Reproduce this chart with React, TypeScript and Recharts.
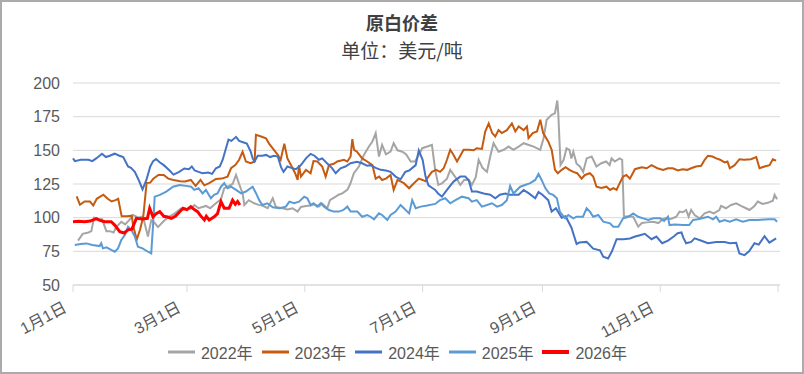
import { LineChart, Line, XAxis, YAxis, CartesianGrid, Legend } from 'recharts';

// [day of year, value]
const s2022: [number, number][] = [
  [2.6, 83], [5, 88], [8, 89], [9.5, 90], [10.9, 100], [13, 98.5], [15, 99], [17.3, 90], [19, 90], [21, 89],
  [22.4, 93], [25, 97], [27, 95], [29.3, 98.5], [31, 102], [34, 100], [36.2, 101], [38.8, 86], [40.5, 98], [42.3, 96],
  [44, 93], [46.6, 97], [49, 100], [52.6, 103], [56, 107], [58.5, 106], [61.2, 107], [62.8, 109.4], [65, 107], [68.8, 108.7],
  [71, 107], [74, 110.7], [76.6, 113.7], [78.3, 121.8], [80, 123], [82.6, 125], [84.4, 131.8], [86, 125], [87.8, 118], [88.7, 109.4],
  [91, 113], [93.8, 110.7], [96, 109.5], [98, 109], [100.8, 107], [103.4, 114.4], [105, 108], [108.5, 107], [111, 106], [113.7, 107],
  [116.3, 104.5], [118, 108], [120.6, 108.7], [123, 109], [125, 110], [127.3, 108.2], [129, 110.5], [131.6, 107], [133, 113], [136, 115.6],
  [137.5, 117], [139.4, 118], [142, 120.6], [143.5, 125], [145.4, 133], [148, 138], [150.6, 146.6], [153.2, 152.8], [155, 156.6], [156.7, 162.8],
  [158.4, 145.4], [160, 154], [162, 147], [164.4, 149], [166, 155.3], [168, 150], [170.5, 149], [172.5, 147], [174.8, 141.7], [177, 141.7],
  [179, 146.6], [180.8, 151.6], [183.4, 152.8], [185.8, 154], [187.5, 135.5], [189.1, 124.3], [191, 125.5], [193.6, 129], [195.3, 135.5], [197, 132],
  [199, 128], [200.5, 124.3], [202.5, 128], [205, 128], [206.5, 124.3], [208.5, 130], [210, 143], [212, 137], [214.3, 134], [216, 145.4],
  [217.7, 155.3], [220.3, 149], [223, 150.4], [225.5, 152.8], [228, 150.4], [230.7, 152.8], [233.3, 155.3], [236, 154], [238.5, 152.8], [241.9, 150.4],
  [243.6, 159], [245.2, 172.7], [247.8, 176.4], [249.5, 177.5], [250.7, 187], [251.2, 177.7], [252.4, 139.2], [254, 143], [255.5, 151.6], [257, 150.4],
  [258, 144], [259, 149], [260.7, 140], [262.4, 138], [264.1, 134], [265.9, 144], [268.5, 145.4], [271, 138], [273.5, 140.4], [276, 141.7],
  [277.8, 139], [278.8, 144], [280.5, 141.7], [283, 144], [284.3, 143], [285.2, 100.7], [287.5, 101], [290, 100.7], [292.6, 93.3], [294.5, 96],
  [297, 96.5], [300.4, 97], [303, 96], [305.5, 99], [307, 99.5], [309.5, 99], [312.3, 100.7], [314, 104.5], [315.7, 104], [317.4, 105.7],
  [318.7, 100.7], [320, 105.7], [321.8, 102], [324.4, 99.5], [327, 103.2], [329.5, 104.5], [331.7, 103.2], [334.6, 105.7], [335.5, 108.7], [338, 107],
  [340.7, 109.4], [343.3, 110.7], [345.8, 108.7], [348.4, 107], [350.2, 105.7], [352.8, 108.7], [354.5, 112], [357, 110.2], [359.7, 111], [362.3, 112.6],
  [363.2, 116.9], [364.5, 113.6],
];

const s2023: [number, number][] = [
  [1.9, 115.8], [3.6, 109.6], [6, 112], [8.8, 112], [10.5, 109], [12.3, 114], [15.7, 117], [18, 114], [20, 112], [22, 113],
  [23.4, 114], [25.2, 101], [28, 101], [30.4, 101.5], [31.2, 93.6], [33, 83.7], [34.7, 91], [36.4, 101], [38.1, 125.8], [40, 126],
  [41.6, 129], [44.2, 131.7], [47, 131.7], [49.3, 129], [52, 128], [55.4, 127], [58, 126.8], [61, 128], [63.5, 123.6], [66, 128],
  [68, 124], [70.5, 125.6], [74, 128.8], [77, 129], [80, 130.5], [81.8, 136.7], [84, 139], [86, 143], [87.8, 149], [89.5, 141.7],
  [92, 140.4], [94, 141.7], [94.7, 161.5], [97, 160.5], [99.9, 159], [101.5, 155], [103.3, 151.6], [106, 146.6], [107.5, 143], [109.4, 155],
  [111, 144], [113.7, 136.7], [115, 133], [116.3, 128], [117, 139], [118, 130.5], [120.6, 135.5], [123, 133], [124.5, 142], [126.5, 141.7],
  [129, 138], [130.8, 130.5], [132.5, 139], [135, 140], [136.8, 141.7], [140.3, 143], [142, 141.7], [143.7, 145.4], [144.6, 158.3], [145.5, 150.4],
  [147, 149], [149.7, 144], [152.3, 141.7], [155, 139], [156.7, 129], [158.5, 130.5], [160, 128], [162, 129], [164.4, 131.7], [166, 120.6],
  [168, 128], [171.3, 125.6], [174, 121.8], [176.5, 125.6], [179, 129], [181, 128], [182.5, 127], [184, 130.5], [185.8, 134], [188, 135.5],
  [190, 134], [191.9, 136.7], [193.6, 143], [195.3, 150.4], [197, 146.6], [198.8, 141.7], [200.5, 146], [202.2, 150.4], [205, 150.4], [207.4, 150],
  [209, 151.6], [211.7, 151], [213.4, 164], [215.2, 170], [217, 162.8], [218.6, 160.3], [220.3, 165], [222, 162.8], [224.6, 165], [227.2, 170],
  [229, 164], [230.7, 167.7], [233.3, 165], [235, 167.7], [235.8, 159], [238, 162.8], [240.2, 164], [241.9, 172.7], [243.4, 162.8], [246, 156.6],
  [247.8, 150.4], [249.5, 135.5], [251, 133], [253, 135.5], [255, 137.5], [257, 135.5], [259, 134], [261, 133], [263.3, 129], [265, 131.7],
  [267.6, 133], [269.3, 130.5], [271, 123], [273.5, 122], [276.2, 123], [278, 120.6], [279.7, 122], [281.4, 120.6], [283, 125.6], [284.8, 130.5],
  [286.5, 131.7], [288.3, 129], [290.9, 136], [292.5, 136.7], [294.5, 137.5], [297, 136.7], [299.5, 139], [302.5, 136.7], [305.5, 135.5], [308, 136.7],
  [310.5, 136.7], [313.2, 135], [315.5, 136], [318, 135.5], [320, 136.7], [322.5, 138], [325.2, 138.5], [327, 143], [328.7, 146], [331, 145.4],
  [333, 144], [335, 143], [337.3, 141], [338.8, 141.7], [340, 136.7], [342.5, 139], [345, 143.4], [347.5, 143], [351, 143.4], [353.7, 145],
  [355.4, 136.7], [358, 138], [360.6, 139], [362.3, 143.4], [364, 142.4],
];

const s2024: [number, number][] = [
  [0, 144], [1, 142], [4, 143], [8, 143], [10, 142], [12, 144], [15, 147.5], [17, 145], [19, 146], [21.6, 147.5],
  [24, 146], [26, 145], [28.5, 138], [30, 137], [32, 134], [34, 128], [36, 121], [38, 128], [40, 138], [41.5, 142],
  [43, 143.5], [45, 141], [47, 139], [50, 135], [52, 132], [55, 134], [57.6, 136.5], [60, 136], [61.5, 138], [63, 135],
  [65, 134], [67, 133], [70, 133.5], [72, 132.5], [74, 136.7], [76, 138], [77.5, 143], [79.5, 153], [80.5, 158], [82, 157],
  [84.4, 160], [86, 157], [88, 156], [90, 155], [92, 149], [93, 144], [94, 141.7], [95.6, 146], [98, 146], [100, 146.6],
  [102, 145], [104, 146], [106, 145.4], [107.7, 137.5], [109, 134], [111, 138], [113, 137], [115.4, 136], [118, 139], [120.6, 144],
  [123, 147.4], [125, 146], [127.3, 143], [129, 144], [131.5, 140.4], [134, 137], [136, 133], [138.5, 136.7], [141, 138], [143.7, 140.4],
  [147, 141.5], [149.7, 140.4], [152.3, 138.5], [154, 139], [156.7, 137], [159.3, 135.5], [162, 135], [164.4, 134], [167, 130.5], [169.6, 128.5],
  [172, 134], [174, 135], [177.4, 139], [179, 150], [181, 143], [182.5, 130.5], [184, 124], [186, 122], [187.5, 120.6], [189, 118],
  [191, 115.6], [193.6, 120.6], [197, 126.8], [200.5, 130.5], [203, 130.5], [204.8, 128], [206.5, 119.4], [209, 119.4], [212.6, 118], [216, 117],
  [218.6, 114.4], [221, 117], [223.8, 118], [226, 117], [230.7, 117], [233.3, 120.6], [236, 118], [239.3, 114.4], [241, 119], [243, 117],
  [246, 113], [247.8, 104.5], [250, 107], [253, 100], [255, 101], [258, 92.7], [260.7, 80.4], [262, 81.5], [265.9, 82], [269.3, 77],
  [272.8, 75.8], [274.5, 71], [277, 69.7], [279, 75], [281.4, 84], [285, 84], [288.3, 84.6], [291, 86], [293.5, 87], [296, 88],
  [299.5, 84], [302, 86], [305, 81], [308, 83], [311, 86], [313, 88.4], [315, 89], [316, 85], [317.4, 81], [320, 82],
  [321.8, 84.6], [325, 83], [328.7, 81], [333, 82], [337.3, 82], [340, 81], [343.3, 81.4], [345, 73.4], [347.6, 72.2], [350, 75],
  [352.8, 81], [355, 80], [358, 86.3], [360.5, 81.4], [364, 84.6],
];

const s2025: [number, number][] = [
  [0.9, 79.7], [4, 80.5], [6.9, 80.9], [10, 79.7], [13.8, 78.9], [14.6, 81], [15.5, 77.2], [17.3, 78], [19.8, 76], [21.6, 74.7],
  [23.3, 77.2], [25, 83.4], [26.8, 87], [28.5, 93.3], [30.2, 91], [32, 86], [33.6, 78.4], [36, 77.2], [38.8, 74.7], [40.5, 73.5],
  [41.4, 93.3], [42.3, 115.6], [45, 116.9], [48.3, 119.4], [51.8, 123], [55.2, 124.3], [58.5, 123.6], [61.2, 123], [62.8, 120.6], [65, 121.8],
  [67.1, 118], [68.8, 120.6], [71.4, 114.4], [73, 116.9], [74.8, 118], [76.6, 123], [78.3, 125.6], [80, 121.8], [81.8, 123], [84.4, 120.6],
  [87, 118], [89.5, 119.4], [93, 123], [94.8, 118], [96.4, 113], [98, 109.4], [100.6, 110.7], [103.4, 107.7], [107, 107], [110.2, 108.2],
  [112, 111.9], [114.5, 110.7], [117, 111.9], [119.7, 115.6], [121.3, 114.4], [123, 109.4], [124.5, 110.7], [126.4, 108.2], [128.3, 110.7], [130, 108.2],
  [132.5, 105.7], [135, 104.5], [137.7, 104.5], [140, 105.7], [142, 108.2], [143.7, 104.5], [147.2, 104.5], [149.7, 100.7], [152.3, 102], [154, 100.7],
  [155.8, 98.8], [158.4, 103.2], [160, 102], [162.7, 98.3], [164.4, 102], [167, 104.5], [169.6, 109.4], [171.3, 107], [174, 103.2], [175.6, 113],
  [177.4, 107], [180, 108.2], [183.4, 109], [187.5, 110.2], [190, 113], [192.7, 114.4], [195.3, 110.7], [198, 113], [201.3, 115.6], [204.8, 114.4],
  [206.5, 111.9], [209, 113], [211.7, 108.2], [214.3, 109.4], [216.9, 110.7], [219.5, 108.2], [222, 109.4], [224.6, 113], [226.3, 123.6], [228, 118],
  [231.5, 123], [234, 124.3], [236.7, 125.6], [239.3, 128], [241, 132.5], [242.6, 128], [244.5, 122], [246.5, 118], [248.6, 116.9], [250.5, 114.4],
  [252, 104.5], [254.7, 99.5], [256.4, 102], [259, 99.5], [260.7, 100.7], [264, 100.7], [265.9, 107], [267.6, 104.5], [269.3, 100.7], [271.9, 102],
  [274.5, 97], [278, 95.8], [279.7, 93.3], [282.3, 93.3], [284.8, 99.5], [287.5, 100.7], [290, 103.2], [292.6, 100.7], [295.2, 99.5], [297.8, 98.3],
  [300.4, 99.5], [304, 99.5], [306, 97.5], [308, 100.7], [308.8, 94.5], [311.5, 95], [315.7, 94.5], [319, 94.5], [321, 98.3], [323.5, 98.8],
  [328.7, 100.7], [331.3, 98.8], [333, 100.7], [334.7, 97], [337.3, 98.3], [340, 97], [343.3, 98.8], [346.7, 97], [350.2, 98.3], [354.5, 98.3],
  [359.7, 98.8], [363.2, 98.8], [364.5, 97],
];

const s2026: [number, number][] = [
  [0, 97], [3, 97.3], [6, 97], [9, 97.5], [12, 99.3], [14, 98], [16.4, 97], [19.8, 97], [21.6, 94.5], [24.2, 89.6],
  [26.5, 88.6], [28.5, 91], [30.5, 91.5], [32.8, 99.5], [36, 99], [38.5, 99.5], [39.7, 107], [41.4, 100.7], [43, 103], [44.9, 104.5],
  [47, 101], [49, 100.5], [50.9, 99.5], [53, 101], [55, 104], [57, 107], [59, 106], [61, 108.2], [62.8, 106], [64.5, 104.5],
  [66, 101.5], [68, 98.3], [69, 101], [70.5, 98.3], [73.1, 100.7], [74.8, 103], [76.6, 111.9], [78.3, 107], [80.8, 107], [82.6, 113],
  [84, 110], [85.2, 112], [86.4, 109.4],
];

const xTicks = [0, 59, 120, 181, 243, 304, 365];
const xTickLabels = ['1月1日', '3月1日', '5月1日', '7月1日', '9月1日', '11月1日', ''];
const yTicks = [50, 75, 100, 125, 150, 175, 200];

const series = [
  { key: 'y2022', name: '2022年', color: '#a5a5a5', width: 2, points: s2022 },
  { key: 'y2023', name: '2023年', color: '#c55a11', width: 2, points: s2023 },
  { key: 'y2024', name: '2024年', color: '#4472c4', width: 2, points: s2024 },
  { key: 'y2025', name: '2025年', color: '#5b9bd5', width: 2, points: s2025 },
  { key: 'y2026', name: '2026年', color: '#ff0000', width: 3, points: s2026 },
];

const allDays = Array.from(new Set(series.flatMap(s => s.points.map(p => p[0])))).sort((a, b) => a - b);
const data = allDays.map(d => {
  const row: any = { d };
  series.forEach(s => {
    const hit = s.points.find(p => p[0] === d);
    row[s.key] = hit ? hit[1] : null;
  });
  return row;
});

const FONT = '"Liberation Sans", Arial, "Noto Sans CJK SC", sans-serif';

const XTick = ({ x, y, payload }: any) => {
  const i = xTicks.indexOf(payload.value);
  return (
    <text
      x={0}
      y={0}
      transform={`translate(${x - 5},${y + 17}) rotate(-28)`}
      textAnchor="end"
      fontSize={16}
      fill="#595959"
      fontFamily={FONT}
    >
      {i >= 0 ? xTickLabels[i] : ''}
    </text>
  );
};

const LegendBox = () => (
  <div style={{ display: 'flex', justifyContent: 'center', alignItems: 'center', fontFamily: FONT, fontSize: 16, color: '#595959' }}>
    {series.map(s => (
      <div key={s.key} style={{ display: 'flex', alignItems: 'center', marginRight: 9 }}>
        <svg width={27} height={6} style={{ marginRight: 6 }}>
          <line x1={0} y1={3} x2={27} y2={3} stroke={s.color} strokeWidth={s.width + 1} />
        </svg>
        <span>{s.name}</span>
      </div>
    ))}
  </div>
);

export default function App() {
  return (
    <div style={{ position: 'absolute', left: 0, top: 0, width: 804, height: 374, background: '#fff' }}>
      <div style={{ position: 'absolute', left: 0, top: 10, width: 804, textAlign: 'center', fontFamily: '"Noto Sans CJK SC", sans-serif', fontSize: 18, fontWeight: 'bold', color: '#404040', lineHeight: '24px' }}>
        原白价差
      </div>
      <div style={{ position: 'absolute', left: 0, top: 38, width: 804, textAlign: 'center', fontFamily: '"Noto Sans CJK SC", sans-serif', fontSize: 19, color: '#404040', lineHeight: '24px' }}>
        单位：美元/吨
      </div>
      <LineChart width={804} height={374} data={data} margin={{ top: 83, right: 24, left: 0, bottom: 59 }}>
        <CartesianGrid vertical={false} stroke="#d9d9d9" />
        <XAxis
          dataKey="d"
          type="number"
          domain={[0, 366]}
          ticks={xTicks}
          interval={0}
          height={30}
          tick={<XTick />}
          tickSize={7}
          axisLine={{ stroke: '#d9d9d9' }}
          tickLine={{ stroke: '#d9d9d9' }}
        />
        <YAxis
          domain={[50, 200]}
          ticks={yTicks}
          width={73}
          axisLine={false}
          tickLine={false}
          tickMargin={7}
          tick={{ fontSize: 16, fill: '#595959', fontFamily: FONT }}
        />
        <Legend
          layout="horizontal"
          verticalAlign="middle"
          align="center"
          wrapperStyle={{ top: 340, left: 0, width: 804 }}
          content={<LegendBox />}
        />
        {series.map(s => (
          <Line
            key={s.key}
            type="linear"
            dataKey={s.key}
            name={s.name}
            stroke={s.color}
            strokeWidth={s.width}
            dot={false}
            connectNulls
            isAnimationActive={false}
          />
        ))}
      </LineChart>
      <div style={{ position: 'absolute', left: 0, top: 0, width: 804, height: 374, boxSizing: 'border-box', border: '2px solid #ababab', pointerEvents: 'none' }} />
    </div>
  );
}
